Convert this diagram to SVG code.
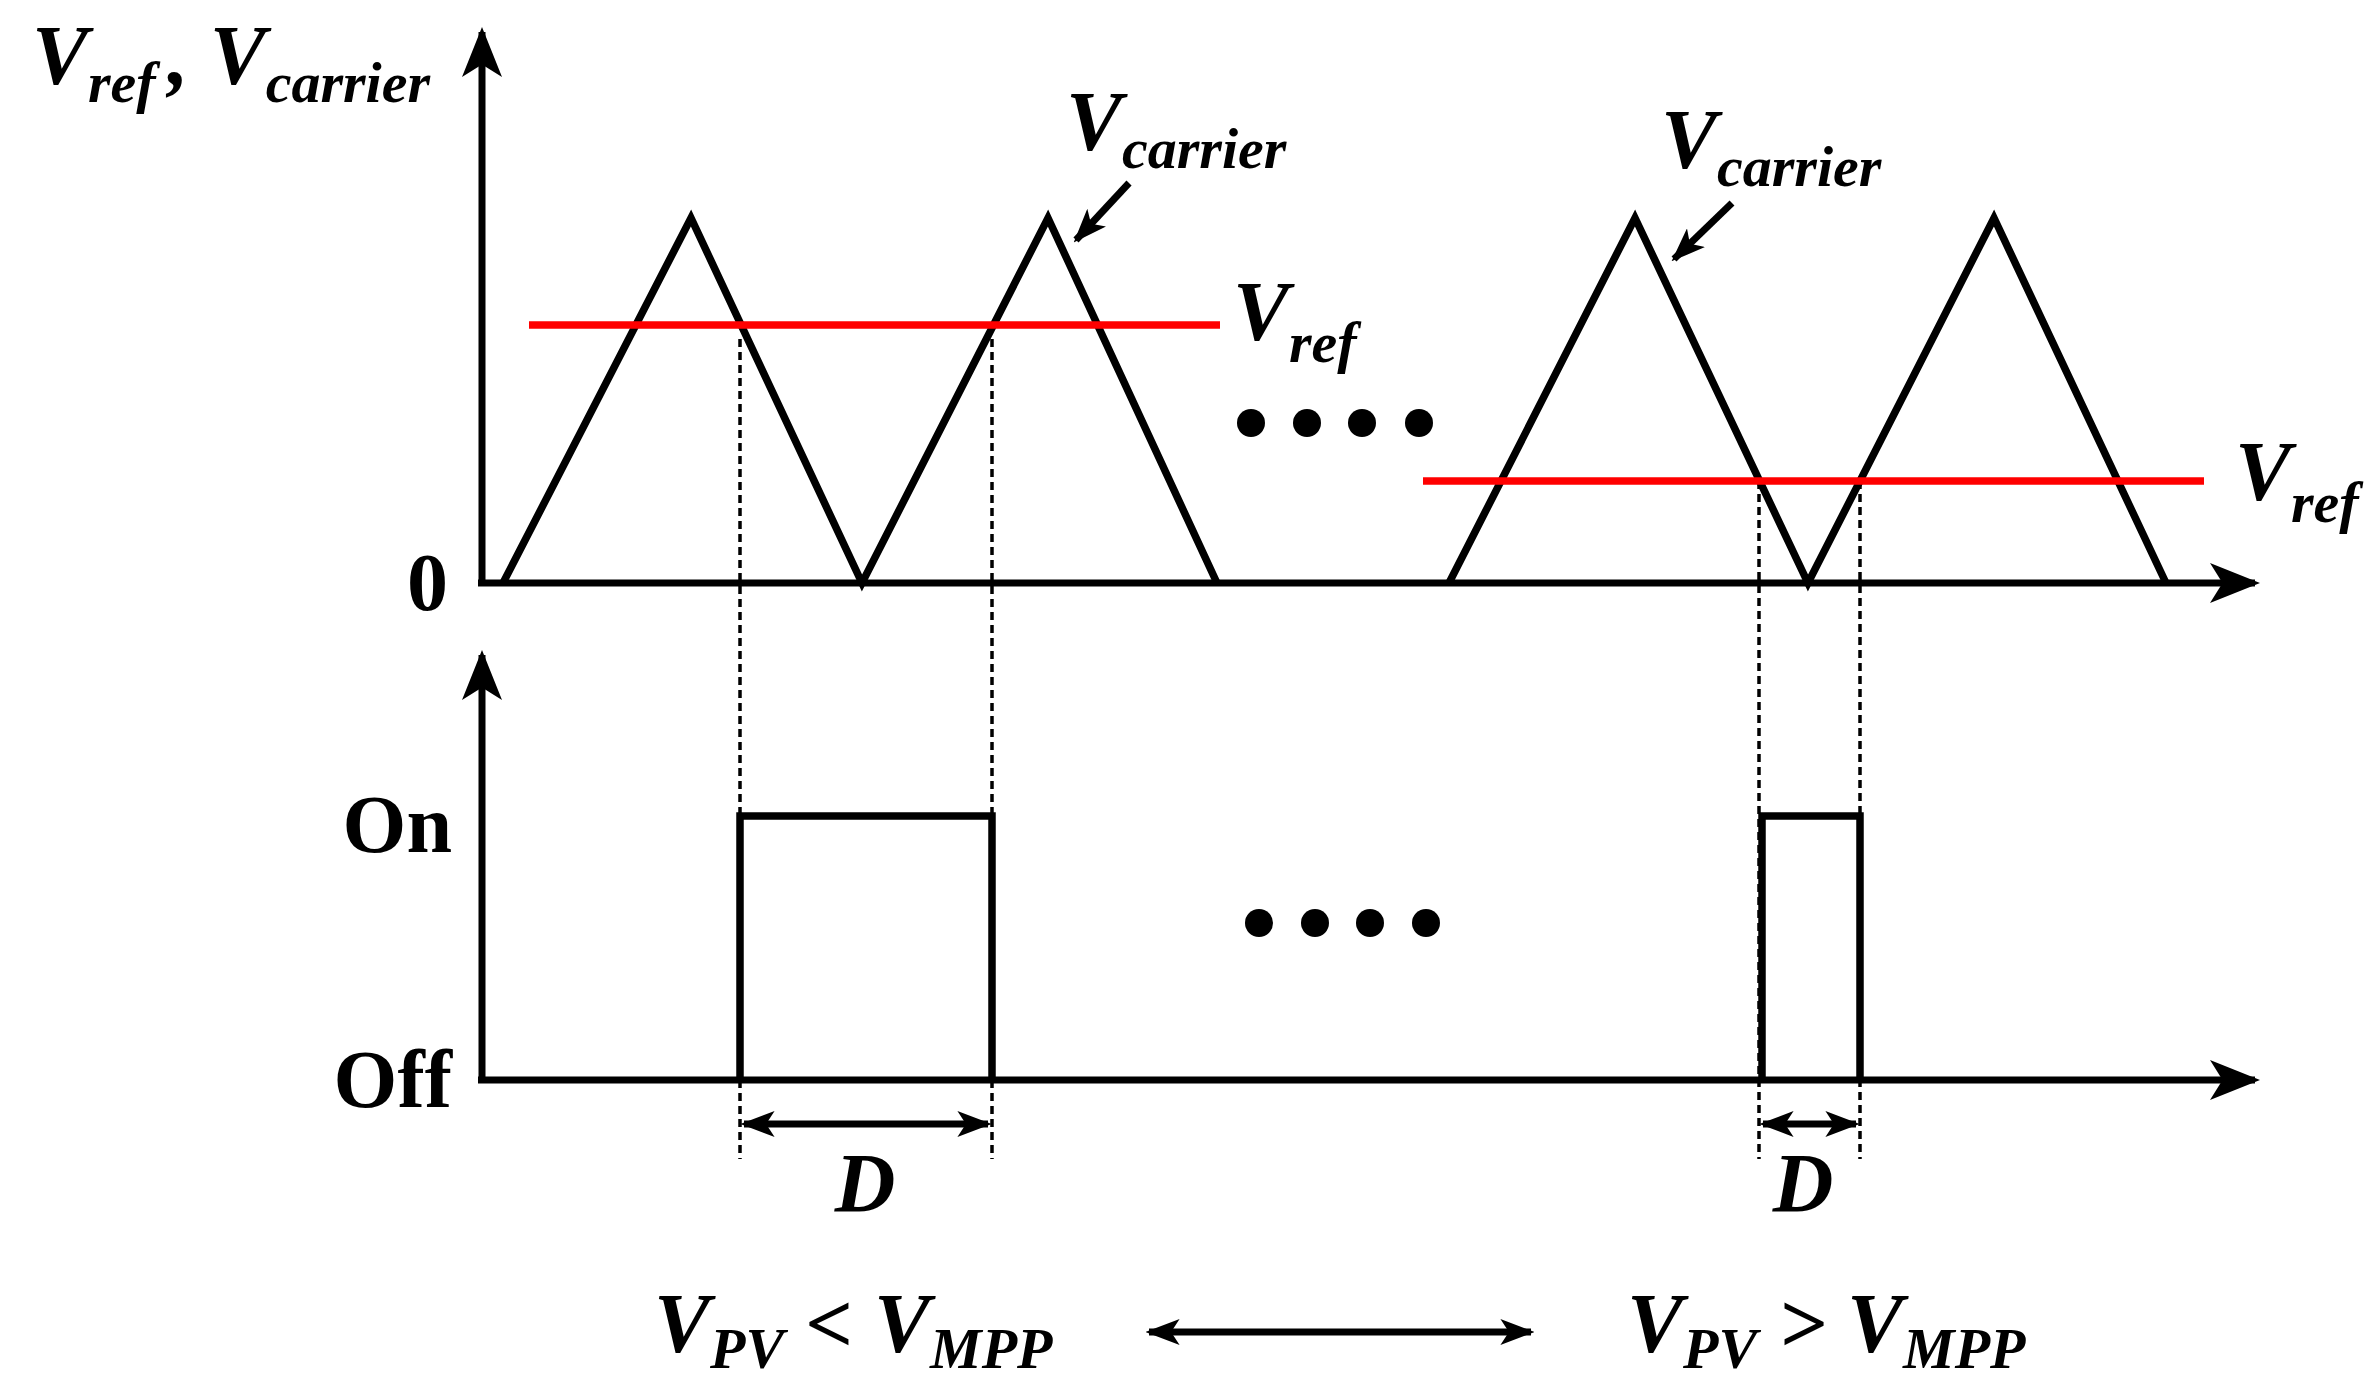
<svg xmlns="http://www.w3.org/2000/svg" width="2380" height="1384" viewBox="0 0 2380 1384">
<style>
.ax{stroke:#000;stroke-width:7;fill:none}
.wv{stroke:#000;stroke-width:7.5;fill:none;stroke-linejoin:miter}
.red{stroke:#ff0000;stroke-width:7.5}
.dash{stroke:#000;stroke-width:3.5;stroke-dasharray:8,5}
text{font-family:"Liberation Serif","Times New Roman",serif;font-weight:bold;fill:#000}
.v{font-style:italic;font-size:84px}
.s{font-size:58px;font-style:italic}
.n{font-size:82px}
</style>
<defs>
<marker id="big" viewBox="0 0 10 10" refX="9" refY="5" markerWidth="50" markerHeight="40" markerUnits="userSpaceOnUse" orient="auto-start-reverse" preserveAspectRatio="none">
<path d="M0,0 L10,5 L0,10 L2.5,5 z" fill="#000"/>
</marker>
<marker id="sm" viewBox="0 0 10 10" refX="9" refY="5" markerWidth="34" markerHeight="26" markerUnits="userSpaceOnUse" orient="auto-start-reverse" preserveAspectRatio="none">
<path d="M0,0 L10,5 L0,10 L2.5,5 z" fill="#000"/>
</marker>
</defs>
<g id="connectors">
<line class="ax" x1="482" y1="583" x2="482" y2="32" marker-end="url(#big)"/>
<line class="ax" x1="478" y1="583" x2="2255" y2="583" marker-end="url(#big)"/>
<line class="ax" x1="482" y1="1080" x2="482" y2="655" marker-end="url(#big)"/>
<line class="ax" x1="478" y1="1080" x2="2255" y2="1080" marker-end="url(#big)"/>
<line class="dash" x1="740" y1="339" x2="740" y2="1159"/>
<line class="dash" x1="992" y1="339" x2="992" y2="1159"/>
<line class="dash" x1="1759" y1="481" x2="1759" y2="1159"/>
<line class="dash" x1="1860" y1="481" x2="1860" y2="1159"/>
<line class="ax" stroke-width="5" x1="744" y1="1124" x2="988" y2="1124" marker-start="url(#sm)" marker-end="url(#sm)"/>
<line class="ax" stroke-width="5" x1="1763" y1="1124" x2="1856" y2="1124" marker-start="url(#sm)" marker-end="url(#sm)"/>
<line class="ax" stroke-width="6" x1="1129" y1="183" x2="1076" y2="240" marker-end="url(#sm)"/>
<line class="ax" stroke-width="6" x1="1732" y1="203" x2="1674" y2="259" marker-end="url(#sm)"/>
<line class="ax" stroke-width="6" x1="1149" y1="1332" x2="1531" y2="1332" marker-start="url(#sm)" marker-end="url(#sm)"/>
</g>
<g id="carrier">
<polyline class="wv" points="503,583 691,218 862,583 1048,218 1217,583"/>
<polyline class="wv" points="1449,583 1635,218 1808,583 1994,218 2166,583"/>
</g>
<g id="vref">
<line class="red" x1="529" y1="325" x2="1220" y2="325"/>
<line class="red" x1="1423" y1="481" x2="2204" y2="481"/>
</g>
<g id="pulses">
<polyline class="wv" points="740,1080 740,816 992,816 992,1080"/>
<polyline class="wv" points="1762,1080 1762,816 1860,816 1860,1080"/>
</g>
<g id="dots" fill="#000">
<circle cx="1251" cy="423" r="14"/><circle cx="1307" cy="423" r="14"/><circle cx="1362" cy="423" r="14"/><circle cx="1419" cy="423" r="14"/>
<circle cx="1259" cy="923" r="14"/><circle cx="1315" cy="923" r="14"/><circle cx="1370" cy="923" r="14"/><circle cx="1426" cy="923" r="14"/>
</g>
<g id="labels">
<text x="32" y="84" class="v">V<tspan class="s" dy="18">ref</tspan><tspan dy="-18" dx="12">, V</tspan><tspan class="s" dy="18">carrier</tspan></text>
<text x="448" y="610" class="n" text-anchor="end">0</text>
<text x="452" y="852" class="n" text-anchor="end">On</text>
<text x="452" y="1107" class="n" text-anchor="end">Off</text>
<text x="1066" y="150" class="v">V<tspan class="s" dy="18">carrier</tspan></text>
<text x="1661" y="168" class="v">V<tspan class="s" dy="18">carrier</tspan></text>
<text x="1233" y="340" class="v">V<tspan class="s" dy="22">ref</tspan></text>
<text x="2235" y="500" class="v">V<tspan class="s" dy="22">ref</tspan></text>
<text x="865" y="1212" class="v" text-anchor="middle">D</text>
<text x="1803" y="1212" class="v" text-anchor="middle">D</text>
<text x="654" y="1352" class="v">V<tspan class="s" dy="16">PV</tspan><tspan dy="-16"> &lt; V</tspan><tspan class="s" dy="16">MPP</tspan></text>
<text x="1627" y="1352" class="v">V<tspan class="s" dy="16">PV</tspan><tspan dy="-16"> &gt; V</tspan><tspan class="s" dy="16">MPP</tspan></text>
</g>
</svg>
